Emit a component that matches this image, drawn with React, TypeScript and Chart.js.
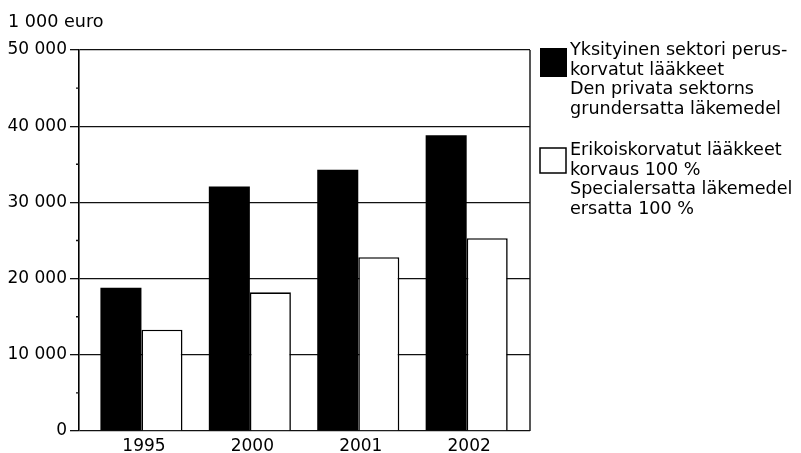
import { useEffect, useRef } from "react";
import { Chart, registerables } from "chart.js";

Chart.register(...registerables);

const categories = ["1995", "2000", "2001", "2002"];
const privateSectorBasic = [18800, 32100, 34300, 38800];
const specialReimbursed = [13300, 18200, 22800, 25300];
const privateSectorLabel = [
  "Yksityinen sektori perus-",
  "korvatut lääkkeet",
  "Den privata sektorns",
  "grundersatta läkemedel",
];
const specialLabel = [
  "Erikoiskorvatut lääkkeet",
  "korvaus 100 %",
  "Specialersatta läkemedel",
  "ersatta 100 %",
];
const unitTitle = "1 000 euro";
const yMinorStep = 5000;

const FONT = "'DejaVu Sans', sans-serif";

const formatThousands = (v: number) =>
  String(v).replace(/\B(?=(\d{3})+(?!\d))/g, " ");

const decorPlugin = {
  id: "decor",
  afterDraw(chart: any) {
    const { ctx, chartArea, scales } = chart;
    const y = scales.y;
    ctx.save();
    ctx.strokeStyle = "#111";
    ctx.lineWidth = 1.4;
    ctx.beginPath();
    ctx.moveTo(chartArea.right, chartArea.top);
    ctx.lineTo(chartArea.right, chartArea.bottom);
    for (let v = yMinorStep; v < y.max; v += yMinorStep * 2) {
      const py = y.getPixelForValue(v);
      ctx.moveTo(chartArea.left - 3, py);
      ctx.lineTo(chartArea.left, py);
    }
    ctx.stroke();

    ctx.fillStyle = "#000";
    ctx.font = `17.6px ${FONT}`;
    ctx.textBaseline = "alphabetic";
    ctx.textAlign = "left";
    ctx.fillText(unitTitle, 8, 27);

    // legend
    const entries = chart.data.datasets.map((ds: any) => ({
      lines: ds.legendLines as string[],
      fill: ds.backgroundColor,
      border: ds.borderWidth > 0,
    }));
    const boxX = chartArea.right + 10;
    const textX = boxX + 30;
    const lineH = 19.7;
    let baseY = 55;
    entries.forEach((e: any) => {
      ctx.fillStyle = e.fill;
      if (e.border) {
        ctx.fillRect(boxX, baseY - 7, 26, 25);
        ctx.strokeStyle = "#000";
        ctx.lineWidth = 1.5;
        ctx.strokeRect(boxX, baseY - 7, 26, 25);
      } else {
        ctx.fillRect(boxX, baseY - 7, 27, 29);
      }
      ctx.fillStyle = "#000";
      ctx.font = `17.6px ${FONT}`;
      e.lines.forEach((ln: string, i: number) => {
        ctx.fillText(ln, textX, baseY + i * lineH);
      });
      baseY += 100;
    });
    ctx.restore();
  },
};

export default function App() {
  const ref = useRef<HTMLCanvasElement | null>(null);

  useEffect(() => {
    if (!ref.current) return;
    document.body.style.margin = "0";
    Chart.defaults.font.family = FONT;
    Chart.defaults.color = "#000";
    const chart = new Chart(ref.current, {
      type: "bar",
      data: {
        datasets: [
          {
            label: privateSectorLabel.join(" "),
            legendLines: privateSectorLabel,
            data: categories.map((_, i) => ({ x: i, y: privateSectorBasic[i] })),
            backgroundColor: "#000",
            borderWidth: 0,
          } as any,
          {
            label: specialLabel.join(" "),
            legendLines: specialLabel,
            data: categories.map((_, i) => ({ x: i, y: specialReimbursed[i] })),
            backgroundColor: "#fff",
            borderColor: "#000",
            borderWidth: 1.6,
          } as any,
        ],
      },
      options: {
        animation: false,
        responsive: false,
        categoryPercentage: 0.757,
        barPercentage: 1.0,
        layout: { padding: { left: 0, top: 50, right: 271, bottom: 0 } },
        plugins: {
          legend: { display: false },
          tooltip: { enabled: false },
          title: { display: false },
        },
        scales: {
          x: {
            type: "linear",
            offset: false,
            min: -0.576,
            max: 3.584,
            grid: { display: false, offset: false },
            border: { display: false },
            afterBuildTicks: (scale: any) => {
              scale.ticks = categories.map((_, i) => ({ value: i }));
            },
            afterFit: (scale: any) => {
              scale.height = 22;
            },
            ticks: {
              padding: -3,
              labelOffset: 2.5,
              font: { size: 17 },
              color: "#000",
              autoSkip: false,
              maxRotation: 0,
              callback: (v: any) => categories[v as number] ?? "",
            },
          },
          y: {
            min: 0,
            max: 50000,
            grid: {
              color: "#111",
              lineWidth: 1.3,
              tickLength: 9,
              drawTicks: true,
            },
            border: { display: true, color: "#000", width: 1.6 },
            afterFit: (scale: any) => {
              scale.width = 79;
            },
            ticks: {
              stepSize: 10000,
              padding: 3,
              font: { size: 17 },
              color: "#000",
              callback: (v: any) => formatThousands(Number(v)),
            },
          },
        },
      } as any,
      plugins: [decorPlugin],
    });
    return () => chart.destroy();
  }, []);

  return (
    <div style={{ position: "fixed", left: 0, top: 0, width: 801, height: 453, background: "#fff" }}>
      <canvas ref={ref} width={801} height={453} />
    </div>
  );
}
